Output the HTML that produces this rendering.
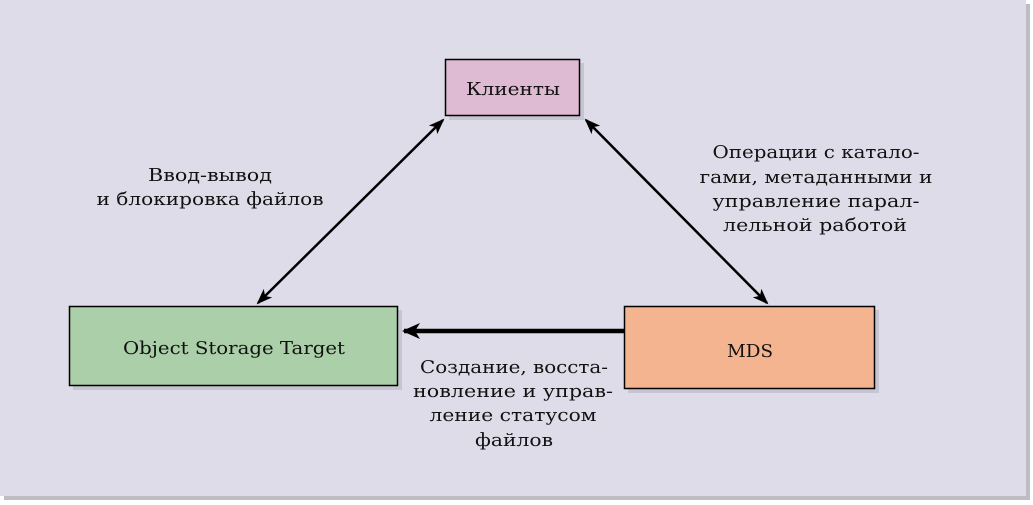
<!DOCTYPE html>
<html><head><meta charset="utf-8"><style>
html,body{margin:0;padding:0;background:#fff;}
svg{display:block;}
text{font-family:"DejaVu Serif","Liberation Serif",serif;font-size:18px;fill:#111;}
</style></head><body>
<svg width="1033" height="505" viewBox="0 0 1033 505" xmlns="http://www.w3.org/2000/svg">
<defs>
<marker id="ah" markerWidth="16" markerHeight="12" refX="14" refY="6" orient="auto-start-reverse" markerUnits="userSpaceOnUse">
<path d="M0,0 L16,6 L0,12 L4,6 Z" fill="#000"/>
</marker>
<marker id="ah2" markerWidth="18" markerHeight="16" refX="16" refY="8" orient="auto" markerUnits="userSpaceOnUse">
<path d="M0,0 L18,8 L0,16 L5,8 Z" fill="#000"/>
</marker>
</defs>
<rect x="4" y="4" width="1026" height="496" fill="#bdbdc2"/>
<rect x="0" y="0" width="1026" height="496" fill="#dfdce9"/>
<rect x="449" y="63" width="135" height="57" fill="#c8c5d2"/>
<rect x="73" y="310" width="329" height="80" fill="#c8c5d2"/>
<rect x="628" y="310" width="251" height="83" fill="#c8c5d2"/>
<rect x="445.5" y="59.5" width="134" height="56" fill="#dfbad3" stroke="#000" stroke-width="1.5"/>
<rect x="69.5" y="306.5" width="328" height="79" fill="#abcfa9" stroke="#000" stroke-width="1.5"/>
<rect x="624.5" y="306.5" width="250" height="82" fill="#f3b48f" stroke="#000" stroke-width="1.5"/>
<text x="513" y="95" text-anchor="middle" textLength="94" lengthAdjust="spacingAndGlyphs">Клиенты</text>
<text x="234" y="354" text-anchor="middle" textLength="222" lengthAdjust="spacingAndGlyphs">Object Storage Target</text>
<text x="750" y="357" text-anchor="middle" textLength="46" lengthAdjust="spacingAndGlyphs">MDS</text>
<line x1="443" y1="120" x2="258" y2="303" stroke="#000" stroke-width="2.5" marker-start="url(#ah)" marker-end="url(#ah)"/>
<line x1="586" y1="120" x2="767" y2="303" stroke="#000" stroke-width="2.5" marker-start="url(#ah)" marker-end="url(#ah)"/>
<line x1="624" y1="331" x2="404" y2="331" stroke="#000" stroke-width="4.5" marker-end="url(#ah2)"/>
<g text-anchor="middle">
<text x="210" y="181" textLength="124" lengthAdjust="spacingAndGlyphs">Ввод-вывод</text>
<text x="210" y="205" textLength="227" lengthAdjust="spacingAndGlyphs">и блокировка файлов</text>
<text x="816" y="158" textLength="207" lengthAdjust="spacingAndGlyphs">Операции с катало-</text>
<text x="816" y="183" textLength="233" lengthAdjust="spacingAndGlyphs">гами, метаданными и</text>
<text x="816" y="207" textLength="207" lengthAdjust="spacingAndGlyphs">управление парал-</text>
<text x="815" y="231" textLength="184" lengthAdjust="spacingAndGlyphs">лельной работой</text>
<text x="514" y="373" textLength="188" lengthAdjust="spacingAndGlyphs">Создание, восста-</text>
<text x="513" y="397" textLength="200" lengthAdjust="spacingAndGlyphs">новление и управ-</text>
<text x="513" y="421" textLength="167" lengthAdjust="spacingAndGlyphs">ление статусом</text>
<text x="514" y="446" textLength="78" lengthAdjust="spacingAndGlyphs">файлов</text>
</g>
</svg>
</body></html>
